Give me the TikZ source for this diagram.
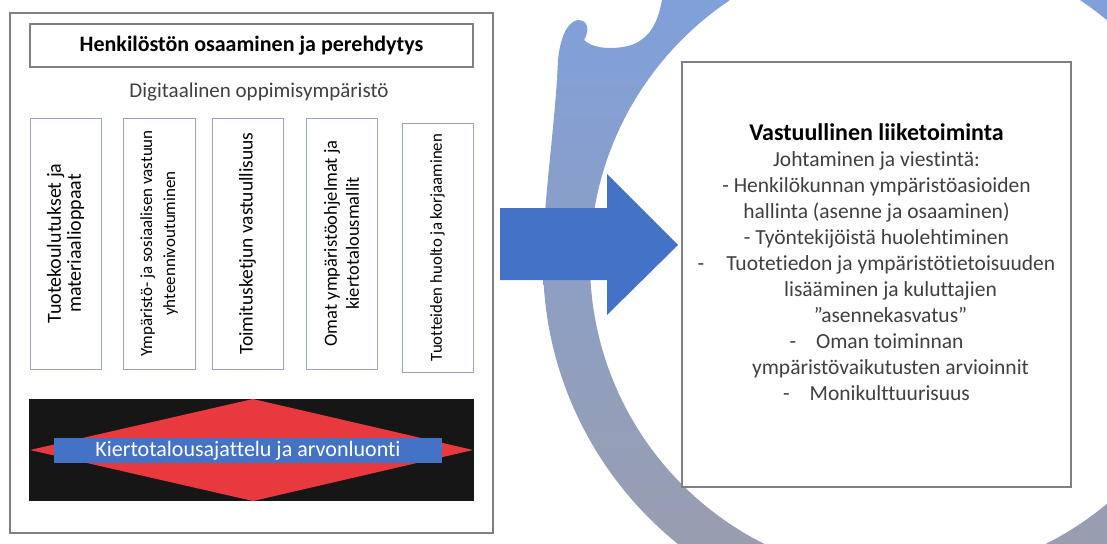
\documentclass[tikz,border=0pt]{standalone}
\usepackage{fontspec}
\setmainfont{Carlito}[Ligatures=NoCommon]
\usepackage{tikz}
\usetikzlibrary{positioning}

\definecolor{nuoli}{RGB}{68,114,196}
\definecolor{punainen}{RGB}{232,57,63}
\definecolor{musta}{RGB}{22,22,22}
\definecolor{reuna}{RGB}{128,128,128}
\definecolor{vreuna}{RGB}{150,165,195}
\definecolor{teksti}{RGB}{64,64,64}
\definecolor{rengasA}{RGB}{126,160,222}
\definecolor{rengasB}{RGB}{148,171,214}
\definecolor{rengasC}{RGB}{156,158,170}

\begin{document}
\begin{tikzpicture}[x=1pt,y=-1pt,
	vbox/.style={draw=vreuna,line width=1pt,rotate=90,minimum height=71pt,
		inner sep=0pt,align=center,text=black},
	greybox/.style={draw=reuna,line width=1.2pt}]
	\useasboundingbox (0,0) rectangle (1107,543);
	
	% 背景：蓝色圆环（只显示画面内的部分），左上角是笔刷的起点
	\begin{scope}
		\clip (0,0) rectangle (1107,543);
		\shade[even odd rule,top color=rengasA,middle color=rengasB,bottom color=rengasC]
			(543,262) arc[start angle=180,end angle=-46.4,radius=362]
			-- (1160,-20) -- (664,-20) -- (662,0)
			.. controls (658,22) and (650,40) .. (628,46)
			.. controls (610,50) and (592,48) .. (584,40)
			.. controls (590,30) and (588,20) .. (578,20)
			.. controls (566,22) and (560,40) .. (558,60)
			.. controls (555,130) and (543,200) .. (543,262) -- cycle
			(905,262) circle[radius=315];
	\end{scope}
	
	% 左侧大框
	\draw[greybox,fill=white] (10,13) rectangle (493,533);
	\node[greybox,minimum width=443pt,minimum height=43pt,
		font=\fontsize{22}{24}\selectfont\bfseries] (title) at (251.5,45.5)
		{Henkilöstön osaaminen ja perehdytys};
	\node[text=teksti,font=\fontsize{21}{24}\selectfont] (digi) at (259,92)
		{Digitaalinen oppimisympäristö};
	
	% 五个竖排的框（文字从下往上读）
	\node[vbox,minimum width=251pt,font=\fontsize{20}{20}\selectfont] (box1) at (65.5,243.5)
		{Tuotekoulutukset ja\\materiaalioppaat};
	\node[vbox,minimum width=251pt,minimum height=72pt,font=\fontsize{17}{23}\selectfont] (box2) at (159,243.5)
		{Ympäristö- ja sosiaalisen vastuun\\yhteennivoutuminen};
	\node[vbox,minimum width=251pt,font=\fontsize{19.5}{20}\selectfont] (box3) at (247.5,243.5)
		{Toimitusketjun vastuullisuus};
	\node[vbox,minimum width=251pt,font=\fontsize{18.5}{22}\selectfont] (box4) at (341.5,243.5)
		{Omat ympäristöohjelmat ja\\kiertotalousmallit};
	\node[vbox,minimum width=249pt,font=\fontsize{16.8}{20}\selectfont] (box5) at (437.5,247.5)
		{Tuotteiden huolto ja korjaaminen};
	
	% 下方黑底、红色菱形、蓝色横条
	\fill[musta] (29,399) rectangle (474,501);
	\fill[punainen] (30,450) -- (253,399) -- (473,450) -- (253,501) -- cycle;
	\node[fill=nuoli,minimum width=388pt,minimum height=25pt,inner sep=0pt,
		text=white,font=\fontsize{22}{22}\selectfont] (band) at (248,450.5)
		{Kiertotalousajattelu ja arvonluonti};
	
	% 蓝色大箭头
	\fill[nuoli] (500,208) -- (607,208) -- (607,174) -- (678,245)
		-- (607,315) -- (607,280) -- (500,280) -- cycle;
	
	% 右侧框
	\draw[greybox,fill=white] (682,62) rectangle (1071,487);
	\node[text=teksti,align=center,font=\fontsize{21.5}{26}\selectfont] (goal) at (876.5,262.5)
		{{\fontsize{24}{26}\selectfont\bfseries\color{black}Vastuullinen liiketoiminta}\\
		Johtaminen ja viestintä:\\
		- Henkilökunnan ympäristöasioiden\\
		hallinta (asenne ja osaaminen)\\
		- Työntekijöistä huolehtiminen\\
		-\hspace{22pt}Tuotetiedon ja ympäristötietoisuuden\\
		\hspace*{28pt}lisääminen ja kuluttajien\\
		\hspace*{28pt}”asennekasvatus”\\
		-\hspace{20pt}Oman toiminnan\\
		\hspace*{28pt}ympäristövaikutusten arvioinnit\\
		-\hspace{20pt}Monikulttuurisuus};
\end{tikzpicture}
\end{document}
